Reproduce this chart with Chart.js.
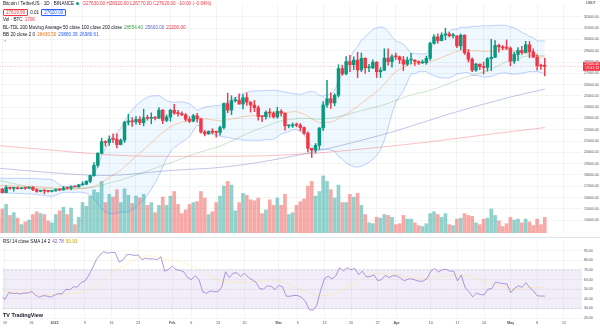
<!DOCTYPE html>
<html>
<head>
<meta charset="utf-8">
<script src="https://cdn.jsdelivr.net/npm/chart.js@4.4.1/dist/chart.umd.min.js"></script>
<style>
  body { margin: 0; width: 600px; height: 329px; position: relative; overflow: hidden; background: #fff;
         font-family: "Liberation Sans", Arial, sans-serif; color: #131722; }
  canvas { position: absolute; left: 0; }
  #price { top: 0; }
  #rsi { top: 237px; }
  .sep { position: absolute; left: 0; top: 237px; width: 600px; height: 1px; background: #e0e3eb; }
  .row { position: absolute; left: 3px; font-size: 4.6px; line-height: 6px; white-space: nowrap; }
  .row span { margin-right: 2px; }
  .box { display: inline-block; border: 0.5px solid; padding: 0 2px; line-height: 5px; border-radius: 1px; }
  .dot { display: inline-block; width: 3px; height: 3px; border-radius: 50%; background: #089981; vertical-align: middle; }
  .logo { position: absolute; left: 3px; top: 312px; font-size: 5.4px; font-weight: bold; color: #131722; }
  .unit { position: absolute; left: 586px; top: 1px; font-size: 3.6px; color: #131722; }
</style>
</head>
<body>
<canvas id="price" width="600" height="237"></canvas>
<div class="sep"></div>
<canvas id="rsi" width="600" height="92"></canvas>

<div class="row" style="top:1px"><span>Bitcoin / TetherUS · 1D · BINANCE</span><span class="dot"></span> <span id="ohlc" style="color:#f23645"></span></div>
<div class="row" style="top:9px"><span class="box" id="bid" style="color:#f23645;border-color:#f23645"></span><span id="spread">0.01</span><span class="box" id="ask" style="color:#2962ff;border-color:#2962ff"></span></div>
<div class="row" style="top:17px"><span>Vol · BTC</span><span id="vol" style="color:#f23645"></span></div>
<div class="row" style="top:24.5px"><span>BL-TDL 200 Moving Average 50 close 100 close 200 close</span><span id="ma50v" style="color:#43a047"></span><span id="ma100v" style="color:#5c6bc0"></span><span id="ma200v" style="color:#f23645"></span></div>
<div class="row" style="top:32px"><span>BB 20 close 2 0</span><span id="bbm" style="color:#ff6d00"></span><span id="bbu" style="color:#2962ff"></span><span id="bbl" style="color:#2962ff"></span></div>
<div class="row" style="top:40px;color:#787b86">&#8963;</div>
<div class="row" style="top:239px"><span>RSI 14 close SMA 14 2</span><span id="rsiv" style="color:#7e57c2"></span><span id="rsimav" style="color:#c9a800"></span></div>
<div class="logo">TV TradingView</div>
<div class="unit">USDT</div>

<script>
// BTC/USDT daily candles, Dec 18 2022 - May 10 2023 (index 0 = Dec 18)
const firstOpen = 16780;
const closes = [
  16740, 16440, 16900, 16820, 16830, 16780, 16840, 16830, 16920, 16700, 16550, 16630, 16600, 16540,
  16620, 16680, 16670, 16850, 16830, 16950, 16940, 17120, 17180, 17440, 17940, 18850, 19930, 20950, 20870, 21170,
  21160, 20690, 21080, 22670, 22780, 22710, 22920, 22640, 23060, 23010, 23080, 23030, 23740, 22830, 23130,
  23730, 23490, 23430, 23330, 22930, 22760, 23240, 22960, 21800, 21630, 21860, 21790, 21770, 22200,
  24320, 23740, 24570, 24630, 24280, 24840, 24450, 24190, 23950, 23190, 23160, 23550, 23490, 23140,
  23630, 23470, 22350, 22350, 22430, 22410, 22200, 21700, 20360, 20190, 20630, 22160, 24200, 24750, 24380, 25060,
  27420, 26960, 28040, 27770, 28170, 27300, 28330, 27490, 27490, 27990, 27140, 27270, 28350, 28030, 28480,
  28460, 28200, 27810, 28170, 28180, 28040, 27920, 27950, 28330, 29650, 30230, 29900, 30390, 30490, 30320,
  30320, 29430, 30380, 28820, 28250, 27280, 27820, 27590, 27520, 28300, 28420, 29470, 29340, 29250, 29230,
  28070, 28670, 29030, 28850, 29530, 28900, 28430, 27660, 27630, 27620
];
const highs = [
  16860, 16820, 17060, 16920, 16870, 16960, 16870, 16860, 16940, 16970, 16780, 16660, 16640, 16630,
  16630, 16760, 16780, 16990, 16880, 17040, 16960, 17180, 17400, 17490, 17990, 19100, 19970, 21260, 21040, 21470,
  21640, 21650, 21190, 22750, 23370, 23080, 23170, 23160, 23820, 23290, 23500, 23170, 23960, 23790, 23320,
  23820, 24250, 23720, 23590, 23430, 23160, 23370, 23450, 22990, 21940, 21900, 22090, 21880, 22320,
  24370, 25250, 25020, 24880, 25190, 25120, 25250, 24480, 24600, 24130, 23220, 23690, 23880, 23600,
  24000, 23780, 23480, 22420, 22610, 22600, 22550, 22270, 21820, 20370, 20790, 22190, 24500, 26390, 25270, 25200,
  27760, 27720, 28480, 28590, 28450, 28870, 28800, 28390, 27800, 28200, 28030, 27510, 29180, 29170, 28650,
  28800, 28530, 28500, 28440, 28770, 28190, 28100, 28180, 28530, 29770, 30420, 30490, 30600, 31000, 30620,
  30550, 30320, 30480, 30410, 29100, 28370, 27880, 27820, 28000, 28400, 30020, 29890, 29600, 29450, 29960,
  29340, 28880, 29270, 29380, 29840, 29820, 29170, 28660, 27820, 28320
];
const lows = [
  16670, 16400, 16400, 16730, 16560, 16760, 16770, 16730, 16790, 16600, 16460, 16500, 16330, 16470,
  16500, 16550, 16600, 16660, 16750, 16680, 16910, 16910, 17100, 17140, 17320, 17900, 18700, 19890, 20550, 20610,
  20850, 20400, 20660, 20870, 22420, 22300, 22500, 22460, 22350, 22850, 22530, 22880, 22980, 22550, 22710,
  22760, 23360, 23200, 23250, 22760, 22630, 22710, 22670, 21690, 21450, 21600, 21630, 21350, 21530,
  22050, 23510, 23340, 24450, 24260, 23850, 24150, 23570, 23600, 22860, 22720, 22950, 23110, 23030,
  23020, 23200, 21970, 22160, 22200, 22270, 21920, 21580, 20040, 19550, 19950, 20270, 21920, 23980, 23900, 24120,
  24900, 26830, 26860, 27150, 27320, 26620, 27150, 27020, 27150, 27420, 26630, 26630, 27240, 27720, 27540,
  28240, 27870, 27230, 27680, 27830, 27710, 27780, 27880, 27800, 28170, 29610, 29660, 29870, 29970, 30230,
  30120, 29270, 29100, 28670, 28010, 27140, 27170, 27330, 26940, 27200, 27250, 28380, 28880, 29080, 29110,
  27660, 27870, 28110, 28670, 28810, 28380, 28410, 27280, 27350, 26770
];
// volume in thousands of BTC
const volumes = [
  160, 260, 310, 190, 220, 160, 90, 120, 140, 200, 230, 210, 200, 130,
  110, 200, 240, 280, 200, 270, 90, 170, 330, 290, 400, 470, 440, 560, 330, 420,
  390, 470, 330, 480, 410, 320, 400, 380, 420, 300, 330, 220, 300, 390, 300,
  400, 450, 310, 210, 250, 310, 330, 340, 450, 380, 200, 230, 330, 400,
  510, 560, 520, 240, 330, 430, 410, 360, 350, 380, 210, 250, 360, 300,
  380, 300, 420, 200, 220, 300, 340, 370, 510, 560, 400, 450, 620, 560, 470, 380,
  520, 330, 330, 420, 390, 430, 300, 200, 110, 100, 170, 160, 200, 190, 170,
  90, 100, 190, 150, 150, 110, 80, 70, 100, 210, 230, 200, 170, 210, 90,
  80, 150, 160, 210, 190, 180, 110, 90, 150, 160, 260, 190, 130, 70, 100,
  170, 140, 150, 110, 150, 120, 80, 150, 90, 170
];
// closes before the first candle (Oct 30 - Dec 17 2022), feed the indicators
const historyCloses = [
  20630, 20490, 20480, 20150, 20210, 21150, 21300, 20910, 20600, 18540, 15880, 17590, 17070, 16810, 16330, 16620,
  16900, 16660, 16690, 16700, 16630, 16280, 15780, 16230, 16600, 16600, 16510, 16460, 16440, 16210, 16440, 17160,
  16980, 17090, 16890, 17110, 16970, 17090, 16840, 17220, 17130, 17130, 17090, 17200, 17780, 17810, 17360, 16630, 16780
];
// slow moving averages, read at a few dates
const ma100Idx = [0, 14, 28, 45, 59, 73, 87, 104, 118, 134, 143];
const ma100Val = [18600, 18200, 17950, 18400, 18700, 19400, 20400, 21900, 23400, 24900, 25600];
const ma200Idx = [0, 14, 28, 42, 56, 70, 84, 98, 112, 126, 143];
const ma200Val = [20600, 20200, 19800, 19650, 19650, 19700, 19950, 20400, 20900, 21500, 22200];

// time axis
const timeTickIdx = [1, 8, 14, 22, 29, 36, 45, 50, 57, 64, 73, 78, 85, 92, 99, 104, 113, 120, 127, 134, 141, 148];
const timeTickLabels = ['19', '26', '2023', '9', '16', '23', 'Feb', '6', '13', '20', 'Mar', '6', '13', '20', '27',
  'Apr', '10', '17', '24', 'May', '8', '15'];
const priceTicks = [14000, 15000, 16000, 17000, 18000, 19000, 20000, 21000, 22000, 23000, 24000, 25000,
  26000, 27000, 28000, 29000, 30000, 31000, 32000];
const rsiTicks = [20, 30, 40, 50, 60, 70, 80, 90];
const RSI_UPPER = 70, RSI_MID = 50, RSI_LOWER = 30;

const X_MIN = 0.4, X_MAX = 152.75;
const FONT = '"Liberation Sans", Arial, sans-serif';
const GRID = 'rgba(42,46,57,0.05)';
const UP = '#089981', DOWN = '#f23645';

const opens = closes.map((c, i) => i ? closes[i - 1] : firstOpen);
const last = closes.length - 1;

// indicators
const allCloses = historyCloses.concat(closes);
const off = historyCloses.length;
const mean = a => a.reduce((s, v) => s + v, 0) / a.length;
const sd = a => { const m = mean(a); return Math.sqrt(mean(a.map(v => (v - m) * (v - m)))); };

const bbMid = [], bbUp = [], bbLow = [], ma50 = [];
closes.forEach((c, i) => {
  const j = off + i;
  const w = allCloses.slice(j - 19, j + 1);
  const m = mean(w), s = sd(w);
  bbMid.push(m); bbUp.push(m + 2 * s); bbLow.push(m - 2 * s);
  ma50.push(mean(allCloses.slice(j - 49, j + 1)));
});

function rsiSeries(src, len) {
  const out = new Array(src.length).fill(null);
  let gain = 0, loss = 0;
  for (let j = 1; j <= len; j++) {
    const d = src[j] - src[j - 1];
    gain += Math.max(d, 0); loss += Math.max(-d, 0);
  }
  gain /= len; loss /= len;
  out[len] = 100 - 100 / (1 + gain / loss);
  for (let j = len + 1; j < src.length; j++) {
    const d = src[j] - src[j - 1];
    gain = (gain * (len - 1) + Math.max(d, 0)) / len;
    loss = (loss * (len - 1) + Math.max(-d, 0)) / len;
    out[j] = loss === 0 ? 100 : 100 - 100 / (1 + gain / loss);
  }
  return out;
}
const rsiAll = rsiSeries(allCloses, 14);
const rsi = closes.map((c, i) => rsiAll[off + i]);
const rsiMa = closes.map((c, i) => mean(rsiAll.slice(off + i - 13, off + i + 1)));

const pts = arr => arr.map((v, i) => ({ x: i, y: v }));
const isUp = i => closes[i] >= opens[i];

// legend values
const fmt = v => v.toFixed(2);
const chg = closes[last] - opens[last];
document.getElementById('ohlc').textContent =
  `O${fmt(opens[last])} H${fmt(highs[last])} L${fmt(lows[last])} C${fmt(closes[last])} ` +
  `${chg < 0 ? '\u2212' : '+'}${fmt(Math.abs(chg))} (${chg < 0 ? '\u2212' : '+'}${fmt(Math.abs(chg / opens[last] * 100))}%)`;
document.getElementById('bid').textContent = fmt(closes[last] - 0.01);
document.getElementById('ask').textContent = fmt(closes[last]);
document.getElementById('vol').textContent = volumes[last] + 'K';
document.getElementById('ma50v').textContent = fmt(ma50[last]);
document.getElementById('ma100v').textContent = fmt(ma100Val[ma100Val.length - 1]);
document.getElementById('ma200v').textContent = fmt(ma200Val[ma200Val.length - 1]);
document.getElementById('bbm').textContent = fmt(bbMid[last]);
document.getElementById('bbu').textContent = fmt(bbUp[last]);
document.getElementById('bbl').textContent = fmt(bbLow[last]);
document.getElementById('rsiv').textContent = fmt(rsi[last]);
document.getElementById('rsimav').textContent = fmt(rsiMa[last]);

const xScale = extra => Object.assign({
  type: 'linear', min: X_MIN, max: X_MAX, offset: false,
  afterBuildTicks: s => { s.ticks = timeTickIdx.map(v => ({ value: v })); },
  grid: { color: GRID, drawTicks: false, offset: false },
  border: { display: false }
}, extra);

// last price: dotted line and tag on the price scale
const lastPriceTag = {
  id: 'lastPriceTag',
  beforeDatasetsDraw(chart) {
    const { ctx, chartArea: a, scales } = chart;
    const y = scales.y.getPixelForValue(closes[last]);
    ctx.save();
    ctx.strokeStyle = 'rgba(242,54,69,0.55)';
    ctx.lineWidth = 0.6;
    ctx.setLineDash([1, 1.5]);
    ctx.beginPath(); ctx.moveTo(a.left, y); ctx.lineTo(a.right, y); ctx.stroke();
    ctx.restore();
  },
  afterDraw(chart) {
    const { ctx, chartArea: a, scales } = chart;
    const y = scales.y.getPixelForValue(closes[last]);
    ctx.save();
    ctx.fillStyle = isUp(last) ? UP : DOWN;
    ctx.fillRect(a.right + 1, y - 4.5, 17, 9);
    ctx.fillStyle = '#fff';
    ctx.font = `3.5px ${FONT}`;
    ctx.textBaseline = 'middle';
    ctx.fillText(fmt(closes[last]), a.right + 2.5, y - 2);
    ctx.fillText('07:41:12', a.right + 3.5, y + 2.2);
    ctx.restore();
  }
};

new Chart(document.getElementById('price'), {
  type: 'bar',
  data: {
    datasets: [
      {
        type: 'bar', yAxisID: 'yVol', order: 10, grouped: false, barThickness: 3,
        data: pts(volumes),
        backgroundColor: volumes.map((v, i) => isUp(i) ? 'rgba(38,166,154,0.5)' : 'rgba(239,83,80,0.5)')
      },
      {
        type: 'line', order: 8, data: pts(bbUp), borderColor: 'rgba(41,98,255,0.4)', borderWidth: 0.7,
        pointRadius: 0, fill: '+1', backgroundColor: 'rgba(33,150,243,0.07)'
      },
      {
        type: 'line', order: 8, data: pts(bbLow), borderColor: 'rgba(41,98,255,0.4)', borderWidth: 0.7,
        pointRadius: 0, fill: false
      },
      {
        type: 'line', order: 7, data: pts(bbMid), borderColor: 'rgba(255,109,0,0.45)', borderWidth: 0.7,
        pointRadius: 0, fill: false
      },
      {
        type: 'line', order: 6, data: pts(ma50), borderColor: 'rgba(67,160,71,0.4)', borderWidth: 0.7,
        pointRadius: 0, fill: false
      },
      {
        type: 'line', order: 6, data: ma100Idx.map((x, k) => ({ x, y: ma100Val[k] })),
        borderColor: 'rgba(92,107,192,0.55)', borderWidth: 0.7, pointRadius: 0, fill: false,
        cubicInterpolationMode: 'monotone'
      },
      {
        type: 'line', order: 6, data: ma200Idx.map((x, k) => ({ x, y: ma200Val[k] })),
        borderColor: 'rgba(242,54,69,0.45)', borderWidth: 0.7, pointRadius: 0, fill: false,
        cubicInterpolationMode: 'monotone'
      },
      {
        type: 'bar', order: 2, grouped: false, barThickness: 0.8,
        data: closes.map((c, i) => ({ x: i, y: [lows[i], highs[i]] })),
        backgroundColor: closes.map((c, i) => isUp(i) ? UP : DOWN)
      },
      {
        type: 'bar', order: 1, grouped: false, barThickness: 2.8, minBarLength: 1,
        data: closes.map((c, i) => ({ x: i, y: [opens[i], c] })),
        backgroundColor: closes.map((c, i) => isUp(i) ? UP : DOWN)
      }
    ]
  },
  options: {
    responsive: false,
    animation: false,
    layout: { padding: 0 },
    plugins: { legend: { display: false }, tooltip: { enabled: false } },
    scales: {
      x: xScale({ ticks: { display: false }, afterFit: s => { s.height = 0; } }),
      y: {
        position: 'right', min: 12870, max: 33130,
        afterBuildTicks: s => { s.ticks = priceTicks.map(v => ({ value: v })); },
        afterFit: s => { s.width = 18; },
        ticks: { font: { size: 3.5, family: FONT }, color: '#50535e', padding: 2, callback: v => v.toFixed(2) },
        grid: { color: GRID, drawTicks: false },
        border: { display: false }
      },
      yVol: { display: false, min: 0, max: 2490 }
    }
  },
  plugins: [lastPriceTag]
});

// RSI pane: 30-70 band, dashed levels
const rsiBands = {
  id: 'rsiBands',
  beforeDatasetsDraw(chart) {
    const { ctx, chartArea: a, scales: { y } } = chart;
    const top = y.getPixelForValue(RSI_UPPER), bot = y.getPixelForValue(RSI_LOWER), mid = y.getPixelForValue(RSI_MID);
    ctx.save();
    ctx.fillStyle = 'rgba(126,87,194,0.1)';
    ctx.fillRect(a.left, top, a.right - a.left, bot - top);
    ctx.lineWidth = 0.5;
    ctx.strokeStyle = 'rgba(120,123,134,0.5)';
    ctx.setLineDash([2, 2]);
    [top, bot].forEach(v => { ctx.beginPath(); ctx.moveTo(a.left, v); ctx.lineTo(a.right, v); ctx.stroke(); });
    ctx.strokeStyle = 'rgba(120,123,134,0.3)';
    ctx.setLineDash([1, 2]);
    ctx.beginPath(); ctx.moveTo(a.left, mid); ctx.lineTo(a.right, mid); ctx.stroke();
    ctx.restore();
  }
};

new Chart(document.getElementById('rsi'), {
  type: 'line',
  data: {
    datasets: [
      { data: pts(rsi), borderColor: 'rgba(126,87,194,0.75)', borderWidth: 0.8, pointRadius: 0, order: 1 },
      { data: pts(rsiMa), borderColor: 'rgba(253,216,53,0.35)', borderWidth: 0.7, pointRadius: 0, order: 2 }
    ]
  },
  options: {
    responsive: false,
    animation: false,
    layout: { padding: { top: 1 } },
    plugins: { legend: { display: false }, tooltip: { enabled: false } },
    scales: {
      x: xScale({
        afterFit: s => { s.height = 11; },
        ticks: {
          padding: 3, autoSkip: false, maxRotation: 0, color: '#50535e',
          font: ctx => ({ size: 3.6, family: FONT, weight: /^\d{1,2}$/.test(timeTickLabels[ctx.index]) ? 'normal' : 'bold' }),
          callback: (v, i) => timeTickLabels[i]
        }
      }),
      y: {
        position: 'right', min: 20, max: 100,
        afterBuildTicks: s => { s.ticks = rsiTicks.map(v => ({ value: v })); },
        afterFit: s => { s.width = 18; },
        ticks: { font: { size: 3.5, family: FONT }, color: '#50535e', padding: 2, callback: v => v.toFixed(2) },
        grid: { color: GRID, drawTicks: false },
        border: { display: false }
      }
    }
  },
  plugins: [rsiBands]
});
</script>
</body>
</html>
